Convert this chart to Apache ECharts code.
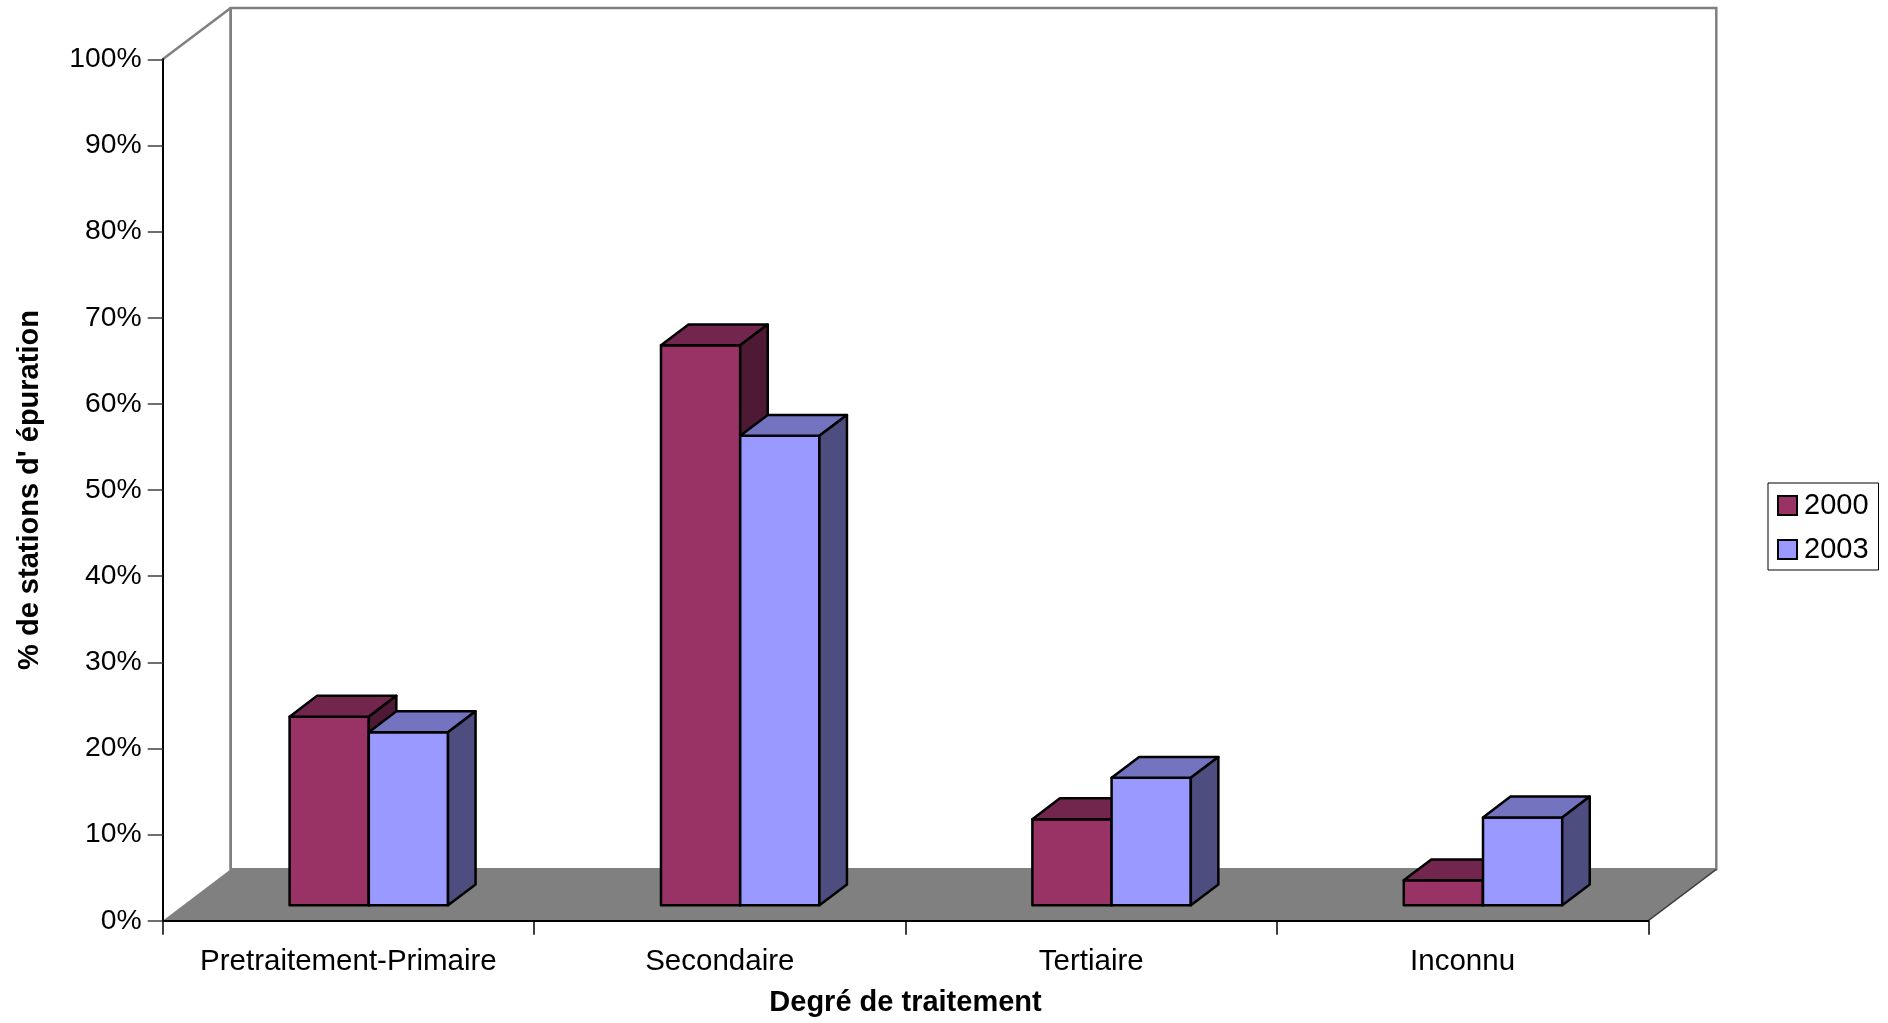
<!DOCTYPE html>
<html>
<head>
<meta charset="utf-8">
<script src="https://cdn.jsdelivr.net/npm/echarts@6/dist/echarts.min.js"></script>
<style>
  html, body { margin: 0; padding: 0; background: #ffffff; }
  #chart { width: 1888px; height: 1023px; }
</style>
</head>
<body>
<div id="chart"></div>
<script>
// ---- data ----
const categories = ['Pretraitement-Primaire', 'Secondaire', 'Tertiaire', 'Inconnu'];
const seriesNames = ['2000', '2003'];
const values2000 = [21.9, 65.0, 10.0, 2.9];
const values2003 = [20.1, 54.5, 14.8, 10.2];
const yMin = 0, yMax = 100, yStep = 10;
const xAxisTitle = 'Degré de traitement';
const yAxisTitle = "% de stations d' épuration";

// ---- style ----
const FONT = '"Liberation Sans", Arial, sans-serif';
const DX = 68, DY = 51.4;          // 3D depth of the plot box
const FRONT_FRAC = 0.30;           // bars front plane position in depth
const DEPTH_FRAC = 0.405;          // bars depth
const BAR_FRAC = 0.2133;           // bar width / category width
const LW = 2.5;
const palettes = [
  { front: '#993366', top: '#73264D', side: '#4D1933' },
  { front: '#9999FF', top: '#7373BF', side: '#4D4D80' }
];

function makeBarRenderer(sIdx) {
  const pal = palettes[sIdx];
  return function (params, api) {
    const cat = api.value(0), val = api.value(1);
    const top = api.coord([cat, val]);
    const base = api.coord([cat, 0]);
    const catW = api.size([1, 0])[0];
    const bw = catW * BAR_FRAC;
    const ox = DX * FRONT_FRAC, oy = -DY * FRONT_FRAC;
    const x0 = top[0] - bw + sIdx * bw + ox;
    const x1 = x0 + bw;
    const yt = top[1] + oy, yb = base[1] + oy;
    const ddx = DX * DEPTH_FRAC, ddy = -DY * DEPTH_FRAC;
    const st = (fill) => ({ fill: fill, stroke: '#000', lineWidth: LW, lineJoin: 'round' });
    return {
      type: 'group',
      children: [
        { type: 'polygon', shape: { points: [[x0, yb], [x1, yb], [x1, yt], [x0, yt]] }, style: st(pal.front) },
        { type: 'polygon', shape: { points: [[x0, yt], [x1, yt], [x1 + ddx, yt + ddy], [x0 + ddx, yt + ddy]] }, style: st(pal.top) },
        { type: 'polygon', shape: { points: [[x1, yb], [x1 + ddx, yb + ddy], [x1 + ddx, yt + ddy], [x1, yt]] }, style: st(pal.side) }
      ]
    };
  };
}

function renderWalls(params, api) {
  const cs = params.coordSys;
  const x0 = cs.x, x1 = cs.x + cs.width, y0 = cs.y, y1 = cs.y + cs.height;
  return {
    type: 'group',
    children: [
      { type: 'rect', shape: { x: x0 + DX, y: y0 - DY, width: cs.width, height: cs.height },
        style: { fill: '#ffffff', stroke: '#808080', lineWidth: 2.5 } },
      { type: 'polygon', shape: { points: [[x0, y1], [x1, y1], [x1 + DX, y1 - DY], [x0 + DX, y1 - DY]] },
        style: { fill: '#808080' } },
      { type: 'line', shape: { x1: x1, y1: y1, x2: x1 + DX, y2: y1 - DY },
        style: { stroke: '#404040', lineWidth: 1.5 } },
      { type: 'line', shape: { x1: x0, y1: y0, x2: x0 + DX, y2: y0 - DY },
        style: { stroke: '#808080', lineWidth: 2.5 } },
      { type: 'line', shape: { x1: x0 + DX, y1: y0 - DY, x2: x0 + DX, y2: y1 - DY },
        style: { stroke: '#808080', lineWidth: 2.5 } }
    ]
  };
}

const chart = echarts.init(document.getElementById('chart'), null, { renderer: 'canvas' });
chart.setOption({
  animation: false,
  backgroundColor: '#ffffff',
  textStyle: { fontFamily: FONT },
  grid: { left: 162.7, right: 239.7, top: 59.3, bottom: 102.3, outerBoundsMode: 'none' },
  legend: {
    data: [
      { name: seriesNames[0], itemStyle: { color: palettes[0].front } },
      { name: seriesNames[1], itemStyle: { color: palettes[1].front } }
    ],
    orient: 'vertical',
    left: 1768, top: 483,
    padding: [8, 10, 6, 9],
    itemGap: 15,
    itemWidth: 19, itemHeight: 19,
    icon: 'rect',
    itemStyle: { borderColor: '#000', borderWidth: 2 },
    borderColor: '#000', borderWidth: 1, backgroundColor: '#fff',
    textStyle: { fontFamily: FONT, fontSize: 29, color: '#000', lineHeight: 28, padding: [0, 0, 0, 2] },
    selectedMode: false
  },
  xAxis: {
    type: 'category',
    data: categories,
    z: 5,
    boundaryGap: true,
    axisLine: { show: true, lineStyle: { color: '#000', width: 2 } },
    axisTick: { show: true, length: 14, lineStyle: { color: '#000', width: 1.5 } },
    axisLabel: { fontFamily: FONT, fontSize: 29.5, color: '#000', margin: 26, interval: 0 },
    splitLine: { show: false },
    name: xAxisTitle,
    nameLocation: 'middle',
    nameGap: 68,
    nameTextStyle: { fontFamily: FONT, fontSize: 29, fontWeight: 'bold', color: '#000' }
  },
  yAxis: {
    type: 'value',
    min: yMin, max: yMax, interval: yStep,
    z: 5,
    axisLine: { show: true, lineStyle: { color: '#000', width: 2 } },
    axisTick: { show: true, length: 15, lineStyle: { color: '#404040', width: 1.5 } },
    axisLabel: { fontFamily: FONT, fontSize: 28.3, color: '#000', margin: 21, formatter: '{value}%' },
    splitLine: { show: false },
    name: yAxisTitle,
    nameLocation: 'middle',
    nameRotate: 90,
    nameGap: 118,
    nameTextStyle: { fontFamily: FONT, fontSize: 29, fontWeight: 'bold', color: '#000' }
  },
  series: [
    {
      type: 'custom', name: 'walls', silent: true, z: 1,
      renderItem: renderWalls,
      data: [[0, 0]],
      encode: { x: 0, y: 1 }
    },
    {
      type: 'custom', name: seriesNames[0], z: 3,
      itemStyle: { color: palettes[0].front },
      renderItem: makeBarRenderer(0),
      data: values2000.map((v, i) => [i, v]),
      encode: { x: 0, y: 1 }
    },
    {
      type: 'custom', name: seriesNames[1], z: 3,
      itemStyle: { color: palettes[1].front },
      renderItem: makeBarRenderer(1),
      data: values2003.map((v, i) => [i, v]),
      encode: { x: 0, y: 1 }
    }
  ]
});
</script>
</body>
</html>
